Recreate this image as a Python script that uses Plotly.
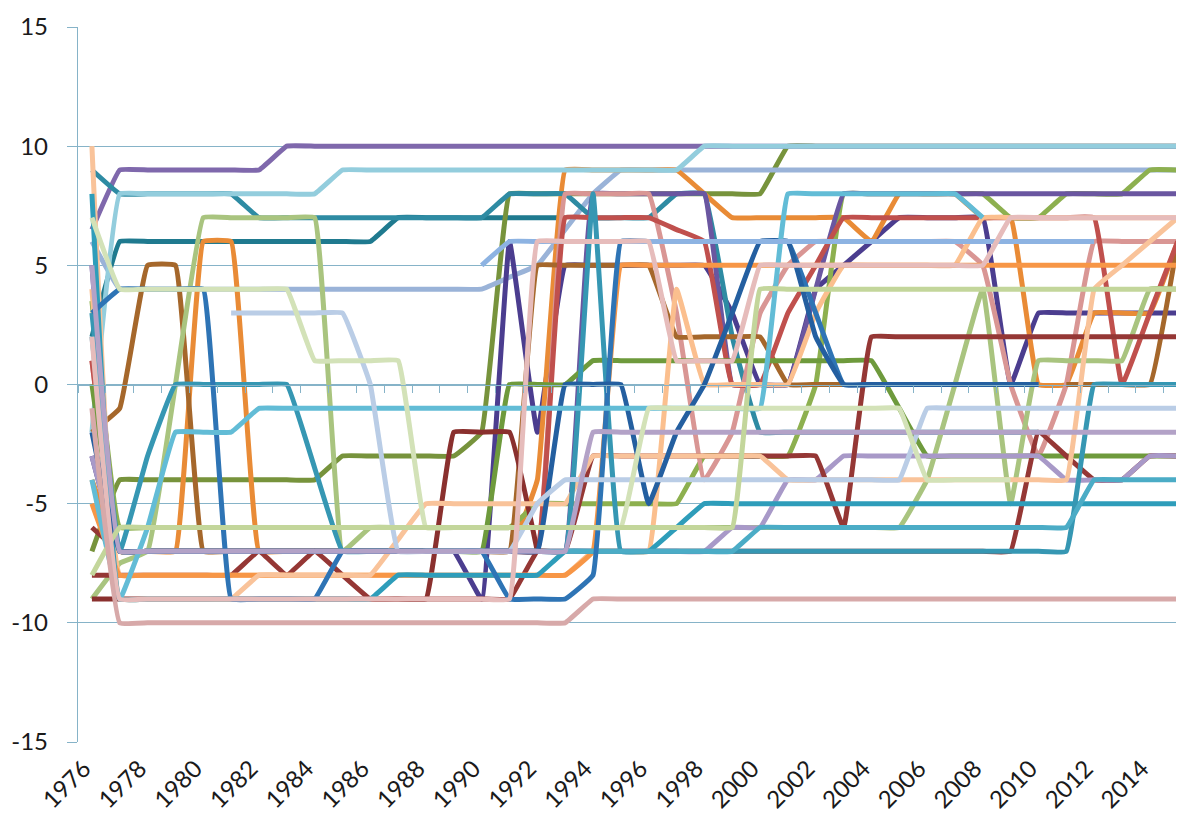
import plotly.graph_objects as go

N = None
years = list(range(1976, 2016))
tick_years = years[::2]
y_ticks = [-15, -10, -5, 0, 5, 10, 15]
y_tick_text = ["-15", "-10", "-5", "0", "5", "10", "15"]

darkteal6 = [2,6,6,6,6,6,6,6,6,6, 6,7,7,7,7,7,7,7,N,N, N,N,N,N,N,N,N,N,N,N, N,N,N,N,N,N,N,N,N,N]
green_a = [-7,-4,-4,-4,-4,-4,-4,-4,-4,-3, -3,-3,-3,-3,-2,8,8,8,8,8, 8,8,8,8,8,10,10,10,10,10, 10,10,10,10,10,10,10,10,10,10]
purple10 = [6.5,9,9,9,9,9,9,10,10,10, 10,10,10,10,10,10,10,10,10,10, 10,10,10,10,10,10,10,10,10,10, 10,10,10,10,10,10,10,10,10,10]
periwinkle_b = [6,4,4,4,4,4,4,4,4,4, 4,4,4,4,4,4.5,5,6.5,8,9, 9,9,9,9,9,9,9,9,9,9, 9,9,9,9,9,9,9,9,9,9]
navy = [-3,-7,-7,-7,-7,-7,-7,-7,-7,-7, -7,-7,-7,-7,-9,6,-2,5,5,5, 5,5,5,3,0,0,4,5,6,7, 7,7,7,0,3,3,3,3,3,3]
orange_bump = [-4,-7,-7,-7,6,6,-7,-7,-7,-7, -7,-7,-7,-7,-7,-7,-4,9,9,9, 9,9,8,7,7,7,7,7,6,8, 8,8,7,7,0,0,3,3,3,6]
light_blue = [-2,8,8,8,8,8,8,8,8,9, 9,9,9,9,9,9,9,9,9,9, 9,9,10,10,10,10,10,10,10,10, 10,10,10,10,10,10,10,10,10,10]
teal8 = [9,8,8,8,8,8,7,7,7,7, 7,7,7,7,7,8,8,8,7,7, 7,8,8,2,-2,-2,-2,-2,-2,-2, -2,-2,-2,-2,-2,N,N,N,N,N]
green_c = [3.5,-6,-6,-6,-6,-6,-6,-6,-6,-6, -6,-6,-6,-6,-6,-6,-5,-5,-5,-5, -5,-5,-3,-3,-3,-3,0,8,8,8, 8,8,8,7,7,8,8,8,9,9]
purple_b = [5,-7,-7,-7,-7,-7,-7,-7,-7,-7, -7,-7,-7,-7,-7,-7,-7,-7,8,8, 8,8,8,0,0,0,4,8,8,8, 8,8,8,8,8,8,8,8,8,8]
rose = [1,-7,-7,-7,-7,-7,-7,-7,-7,-7, -7,-7,-7,-7,-7,-7,-7,8,8,8, 8,3,-4,-2,3,5,6,6,6,6, 6,6,5,0,-3,0,6,6,6,6]
brown = [-2,-1,5,5,-7,-7,-7,-7,-7,-7, -7,-7,-7,-7,-7,-7,5,5,5,5, 5,2,2,2,2,0,0,0,N,N, N,N,N,N,N,0,0,0,0,6]
red = [1,-7,-7,-7,-7,-7,-7,-7,-7,-7, -7,-7,-7,-7,-7,-7,-7,7,7,7, 7,6.5,6,0,0,3,5,7,7,7, 7,7,7,7,7,7,7,0,3,6]
green_b = [0,-7,-7,-7,-7,-7,-7,-7,-7,-7, -7,-7,-7,-7,-7,0,0,0,1,1, 1,1,1,1,1,1,1,1,1,-1, -3,-3,-3,-3,-3,-3,-3,-3,-3,-3]
darkred_b = [-6,-7,-7,-7,-7,-7,-7,-7,-7,-7, -7,-7,-7,-7,-7,-7,-7,-7,-7,-7, -7,-7,-7,-7,-7,-7,-7,-7,-7,-7, -7,-7,-7,-7,-2,-3,-4,-4,-3,-3]
lightgreen_a = [-9,-7.5,-7,0,7,7,7,7,7,-7, -6,-6,-6,-6,-6,-6,-6,-6,-6,-6, -6,-6,-6,-6,-6,-6,-6,-6,-6,-6, -4,0,4,-5,1,1,1,1,4,4]
lavender3 = [-3,-7,-7,-7,-7,-7,-7,-7,-7,-7, -7,-7,-7,-7,-7,-7,-7,-7,-7,-7, -7,-7,-7,-6,-6,-4,-4,-3,-3,-3, -3,-3,-3,-3,-3,-4,-4,-4,-3,-3]
darkred_c = [-9,-9,-9,-9,-9,-9,-9,-9,-9,-9, -9,-9,-9,-2,-2,-2,-7,N,N,N, N,N,N,N,N,N,N,N,N,N, N,N,N,N,N,N,N,N,N,N]
darkred_a = [-8,-8,-8,-8,-8,-8,-7,-8,-7,-8, -9,-9,-9,-9,-9,-9,-7,-7,-3,-3, -3,-3,-3,-3,-3,-3,-3,-6,2,2, 2,2,2,2,2,2,2,2,2,2]
peach = [4,-8,-8,-8,-8,-8,-8,-8,-8,-8, -8,-8,-8,-8,-8,-8,-8,-8,-7,-7, -7,4,0,0,0,0,3,5,5,5, 5,5,7,7,7,7,7,7,7,7]
orange8 = [-5,-8,-8,-8,-8,-8,-8,-8,-8,-8, -8,-8,-8,-8,-8,-8,-8,-8,-7,5, 5,5,5,5,5,5,5,5,5,5, 5,5,5,5,5,5,5,5,5,5]
salmon = [10,-9,-9,-9,-9,-9,-8,-8,-8,-8, -8,-6.5,-5,-5,-5,-5,-5,-5,-3,-3, -3,-3,-3,-3,-3,-4,-4,-4,-4,-4, -4,-4,-4,-4,-4,-4,4,5,6,7]
teal_m5 = [8,-9,-9,-9,-9,-9,-9,-9,-9,-9, -9,-8,-8,-8,-8,-8,-8,-7,-7,-7, -7,-6,-5,-5,-5,-5,-5,-5,-5,-5, -5,-5,-5,-5,-5,-5,-5,-5,-5,-5]
teal_m7 = [3,-7,-3,0,0,0,0,0,-3.5,-7, -7,-7,-7,-7,-7,-7,-7,-7,8,-7, -7,-7,-7,-7,-7,-7,-7,-7,-7,-7, -7,-7,-7,-7,-7,-7,0,0,0,0]
teal_m6 = [2,-7,-7,-7,-7,-7,-7,-7,-7,-7, -7,-7,-7,-7,-7,-7,-7,-7,-7,-7, -7,-7,-7,-7,-6,-6,-6,-6,-6,-6, -6,-6,-6,-6,-6,-6,-4,-4,-4,-4]
blue = [3,4,4,4,4,-9,-9,-9,-9,-7, -7,-7,-7,-7,-7,-9,-9,-9,-8,6, 6,6,6,6,6,6,3,0,0,0, 0,0,0,0,0,N,N,N,N,N]
dark_blue = [-2,-7,-7,-7,-7,-7,-7,-7,-7,-7, -7,-7,-7,-7,-7,-7,-7,0,0,0, -5,-2,0,3,6,6,2,0,0,0, 0,0,0,0,0,N,N,N,N,N]
light_teal = [-4,-9,-6,-2,-2,-2,-1,-1,-1,-1, -1,-1,-1,-1,-1,-1,-1,-1,-1,-1, -1,-1,-1,-1,-1,8,8,8,8,8, 8,8,7,N,N,N,N,N,N,N]
light_lav = [N,N,N,N,N,3,3,3,3,3, 0,-7,-7,-7,-7,-7,-5,-4,-4,-4, -4,-4,-4,-4,-4,-4,-4,-4,-4,-4, -1,-1,-1,-1,-1,-1,-1,-1,-1,-1]
lavender7 = [5,-7,-7,-7,-7,-7,-7,-7,-7,-7, -7,-7,-7,-7,-7,-7,-7,-7,-2,-2, -2,-2,-2,-2,-2,-2,-2,-2,-2,-2, -2,-2,-2,-2,-2,-2,-2,-2,-2,-2]
vl_green = [7,4,4,4,4,4,4,4,1,1, 1,1,-6,-6,-6,-6,-6,-6,-6,-6, -1,-1,-1,-1,-1,-1,-1,-1,-1,-1, -4,-4,-4,-4,N,N,N,N,N,N]
lightgreen_b = [-8,-6,-6,-6,-6,-6,-6,-6,-6,-6, -6,-6,-6,-6,-6,-6,-6,-6,-6,-6, -6,-6,-6,-6,4,4,4,4,4,4, 4,4,4,4,4,4,4,4,4,4]
periwinkle_a = [N,N,N,N,N,N,N,N,N,N, N,N,N,N,5,6,6,6,6,6, 6,6,6,6,6,6,6,6,6,6, 6,6,6,6,6,6,6,N,N,N]
pink9 = [2,-9,-9,-9,-9,-9,-9,-9,-9,-9, -9,-9,-9,-9,-9,-9,6,6,6,6, 6,1,1,1,5,5,5,5,5,5, 5,5,5,7,7,7,7,7,7,7]
pink_brown = [-1,-10,-10,-10,-10,-10,-10,-10,-10,-10, -10,-10,-10,-10,-10,-10,-10,-10,-9,-9, -9,-9,-9,-9,-9,-9,-9,-9,-9,-9, -9,-9,-9,-9,-9,-9,-9,-9,-9,-9]

series = [
    (darkteal6, "#1F7A8F"), (green_a, "#77933C"), (purple10, "#7F68AC"),
    (periwinkle_b, "#9AB3D8"), (navy, "#4B3D8F"), (orange_bump, "#E98B36"),
    (teal8, "#2E8BA3"), (light_blue, "#93CDDD"), (green_c, "#8DB04F"),
    (purple_b, "#6A56A0"), (rose, "#D99694"), (brown, "#A5672B"),
    (red, "#C0504D"), (green_b, "#6E9A3C"), (darkred_b, "#953735"),
    (lightgreen_a, "#A9C47F"), (lavender3, "#A899C8"), (darkred_c, "#8A302E"),
    (darkred_a, "#953735"), (peach, "#FBBF8E"), (orange8, "#F79646"),
    (salmon, "#F9C39A"), (teal_m5, "#2E9DBA"), (teal_m7, "#3697B3"),
    (teal_m6, "#4BACC6"), (blue, "#2E74B5"), (dark_blue, "#245FA0"),
    (light_teal, "#62BCD6"), (light_lav, "#BACDE6"), (lavender7, "#B3A2C7"),
    (vl_green, "#D3E2B8"), (lightgreen_b, "#C3D69B"), (periwinkle_a, "#8DB3E2"),
    (pink9, "#E6BCBB"), (pink_brown, "#D7A9A9"),
]

GRID = "#86B3C8"
FONT = "Lato, 'Open Sans', sans-serif"

fig = go.Figure()
for vals, color in series:
    assert len(vals) == len(years)
    fig.add_trace(go.Scatter(
        x=years, y=vals, mode="lines", connectgaps=False,
        line=dict(color=color, width=5, shape="spline", smoothing=0.25),
        showlegend=False, hoverinfo="skip"))

# helper trace so the zero-crossing category axis (xaxis2) exists
fig.add_trace(go.Scatter(x=years, y=[None] * len(years), xaxis="x2",
                         mode="lines", showlegend=False, hoverinfo="skip"))

xrange = [1975.5, 2015.12]
fig.update_layout(
    width=1176, height=811,
    margin=dict(l=70, r=3, t=19, b=77, autoexpand=False),
    paper_bgcolor="white", plot_bgcolor="white",
    font=dict(family=FONT, color="#1A1A1A"),
    xaxis=dict(range=xrange, tickmode="array", tickvals=tick_years,
               ticktext=[str(y) for y in tick_years], tickangle=-45,
               tickfont=dict(size=24, color="#1A1A1A"), automargin=False,
               showgrid=False, zeroline=False, showline=False, ticks="",
               ticklabelstandoff=7, ticklabelshift=-8),
    xaxis2=dict(range=xrange, overlaying="x", anchor="free", position=0.5,
                side="bottom", showline=True, linecolor=GRID, linewidth=1.3,
                ticks="outside", ticklen=7, tickcolor=GRID, tickwidth=1.3,
                tickmode="array", tickvals=[1975.5 + k for k in range(41)],
                showticklabels=False, showgrid=False, zeroline=False,
                automargin=False),
    yaxis=dict(range=[-15, 15], tickmode="array", tickvals=y_ticks,
               ticktext=y_tick_text,
               showgrid=True, gridcolor=GRID, gridwidth=1.3,
               zeroline=False, showline=True, linecolor=GRID, linewidth=1.3,
               ticks="outside", ticklen=10, tickcolor=GRID, tickwidth=1.3,
               tickfont=dict(size=24, color="#1A1A1A"), automargin=False,
               ticklabelstandoff=14),
)

fig.write_html("out.html")
